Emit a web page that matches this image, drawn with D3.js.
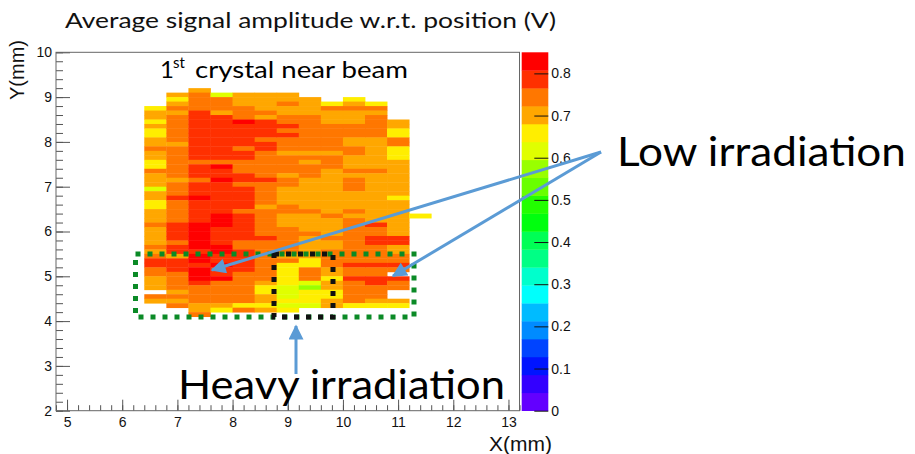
<!DOCTYPE html>
<html>
<head>
<meta charset="utf-8">
<script src="https://cdn.jsdelivr.net/npm/d3@7"></script>
<style>
  html, body { margin: 0; padding: 0; background: #ffffff; }
  svg { display: block; }
</style>
</head>
<body>
<svg id="chart" width="915" height="454"></svg>
<script>
// ---- binning of the 2D map (mm) ----
const xBinLow = [6.4, 6.8, 7.2, 7.6, 8.0, 8.4, 8.8, 9.2, 9.6, 10.0, 10.4, 10.8, 11.2];
const yBinLow = [9.1, 9.0, 8.9, 8.8, 8.7, 8.6, 8.5, 8.4, 8.3, 8.2, 8.1, 8.0, 7.9, 7.8, 7.7, 7.6, 7.5,
                 7.4, 7.3, 7.2, 7.1, 7.0, 6.9, 6.8, 6.7, 6.6, 6.5, 6.4, 6.3, 6.2, 6.1, 6.0, 5.9, 5.8,
                 5.7, 5.6, 5.5, 5.4, 5.3, 5.2, 5.1, 5.0, 4.9, 4.8, 4.7, 4.6, 4.5, 4.4, 4.3, 4.2, 4.1];
const binWidth = 0.4;
const binHeight = 0.1;

// ---- average amplitude (V) per x column, listed from the top row (9.1) down to 4.1 ----
const amp_x6_4 = [null,null,null,null,0.66,0.70,0.70,0.66,0.70,0.66,0.66,0.70,0.70,0.74,0.70,0.70,0.66,
  0.66,0.74,0.70,0.70,0.70,0.62,0.70,0.70,0.66,0.66,0.70,0.70,0.70,0.74,0.70,0.70,0.70,0.70,0.74,0.70,
  0.74,0.79,0.79,0.74,0.74,0.70,0.70,0.70,null,0.74,0.70,null,null,null];
const amp_x6_8 = [null,0.70,0.66,0.70,0.74,0.70,0.74,0.74,0.74,0.74,0.74,0.74,0.70,0.74,0.74,0.74,0.74,
  0.74,0.74,0.74,0.70,0.74,0.74,0.74,0.79,0.74,0.74,0.74,0.74,0.74,0.79,0.79,0.79,0.79,0.74,0.79,0.79,
  0.70,0.79,0.79,0.79,0.74,0.74,0.74,0.74,0.70,0.74,0.70,0.74,null,null];
const amp_x7_2 = [0.70,0.74,0.74,0.74,0.74,0.79,0.79,0.79,0.79,0.79,0.79,0.79,0.79,0.79,0.79,0.79,0.74,
  0.79,0.79,0.79,0.74,0.79,0.79,0.79,0.83,0.79,0.79,0.79,0.79,0.79,0.83,0.83,0.83,0.83,0.83,0.83,0.79,
  0.83,0.83,0.79,0.83,0.83,0.83,0.79,0.74,0.74,0.74,0.74,0.70,0.70,0.74];
const amp_x7_6 = [null,0.62,0.74,0.74,0.74,0.70,0.79,0.79,0.79,0.79,0.79,0.79,0.79,0.79,0.79,0.79,0.74,
  0.83,0.79,0.79,0.83,0.79,0.79,0.79,0.79,0.79,0.79,0.79,0.83,0.83,0.83,0.79,0.79,0.79,0.79,0.83,0.83,
  0.79,0.79,0.83,0.79,0.79,0.83,0.74,0.74,0.74,0.74,0.74,0.70,0.66,null];
const amp_x8_0 = [null,0.70,0.70,0.70,0.74,0.74,0.74,0.83,0.79,0.79,0.79,0.79,0.79,0.74,0.79,0.79,0.74,
  0.74,0.74,0.79,0.79,0.74,0.79,0.79,0.79,0.79,0.79,0.74,0.79,0.79,0.79,0.79,0.79,0.79,0.74,0.74,0.79,
  0.79,0.79,0.79,0.79,0.74,0.74,0.74,0.74,0.74,0.74,0.74,0.66,0.74,null];
const amp_x8_4 = [null,0.70,0.70,0.70,0.70,0.74,0.70,0.79,0.79,0.79,0.79,0.74,0.79,0.79,0.74,0.74,0.74,
  0.74,0.74,0.74,0.79,0.74,0.74,0.74,0.74,0.74,0.70,0.74,0.74,0.74,0.74,0.74,0.74,0.79,0.74,0.74,0.74,
  0.74,0.74,0.74,0.74,0.74,0.74,0.70,0.66,0.66,0.70,0.70,0.66,0.70,null];
const amp_x8_8 = [null,0.70,0.70,0.74,0.70,0.70,0.74,0.74,0.79,0.74,0.79,0.74,0.74,0.74,0.70,0.74,0.74,
  0.74,0.74,0.70,0.74,0.74,0.70,0.70,0.70,0.70,0.74,0.74,0.70,0.70,0.70,0.74,0.74,0.74,0.74,0.74,0.74,
  0.70,0.74,0.66,0.66,0.66,0.66,0.66,0.62,0.62,0.62,0.66,0.62,0.66,null];
const amp_x9_2 = [null,null,0.70,0.70,0.70,0.70,0.74,0.74,0.74,0.74,0.74,0.74,0.74,0.74,0.70,0.74,0.70,
  0.74,0.74,0.74,0.70,0.70,0.70,0.70,0.70,0.70,0.70,0.74,0.70,0.70,0.70,0.70,0.74,0.70,0.70,0.70,0.70,
  0.70,0.66,0.66,0.74,0.74,0.74,0.62,0.57,0.66,0.66,0.66,0.62,null,null];
const amp_x9_6 = [null,null,null,0.66,0.74,0.70,0.70,0.70,0.74,0.74,0.74,0.74,0.74,0.74,0.70,0.74,0.74,
  0.74,0.70,0.70,0.70,0.70,0.70,0.70,0.70,0.70,0.70,0.70,0.74,0.70,0.70,0.70,0.70,0.74,0.70,0.70,0.74,
  0.74,0.74,0.74,0.70,0.70,0.66,0.70,0.70,0.66,0.66,0.70,0.70,null,null];
const amp_x10_0 = [null,null,0.66,0.70,0.74,0.70,0.70,0.70,0.74,0.74,0.74,0.70,0.70,0.74,0.74,0.70,0.70,
  0.70,0.74,0.70,0.74,0.74,0.74,0.70,0.70,0.70,0.70,0.74,0.70,0.74,0.74,0.74,0.74,0.74,0.74,0.74,0.74,
  0.74,0.74,0.79,0.74,0.74,0.79,0.74,0.74,0.74,0.74,0.74,0.66,null,null];
const amp_x10_4 = [null,null,null,0.66,0.74,0.70,0.74,0.74,0.74,0.74,0.74,0.70,0.70,0.70,0.70,0.70,0.70,
  0.70,0.74,0.70,0.70,0.70,0.70,0.70,0.70,0.70,0.70,0.70,0.70,0.70,0.79,0.74,0.74,0.79,0.79,0.74,0.74,
  0.74,0.74,0.79,0.74,0.74,0.79,0.79,0.74,0.74,0.74,0.70,0.66,null,null];
const amp_x10_8 = [null,null,null,null,null,null,null,0.70,0.70,0.66,0.66,0.74,0.74,0.66,0.66,0.66,0.70,
  0.70,0.70,0.70,0.70,0.70,0.70,0.70,0.66,0.70,0.70,0.70,0.70,0.70,0.70,0.70,0.70,0.79,0.79,0.70,0.70,
  0.74,0.74,0.79,0.74,null,0.79,0.74,0.74,null,null,0.70,0.66,null,null];
const amp_x11_2 = [null,null,null,null,null,null,null,null,null,null,null,null,null,null,null,null,null,
  null,null,null,null,null,null,null,null,null,null,null,0.66,null,null,null,null,null,null,null,null,
  null,null,null,null,null,null,null,null,null,null,null,null,null,null];

const amplitudeColumns = [amp_x6_4, amp_x6_8, amp_x7_2, amp_x7_6, amp_x8_0, amp_x8_4, amp_x8_8,
  amp_x9_2, amp_x9_6, amp_x10_0, amp_x10_4, amp_x10_8, amp_x11_2];

// ---- axes ----
const xTicks = [5, 6, 7, 8, 9, 10, 11, 12, 13];
const yTicks = [2, 3, 4, 5, 6, 7, 8, 9, 10];
const zTicks = [0, 0.1, 0.2, 0.3, 0.4, 0.5, 0.6, 0.7, 0.8];
const zMax = 0.85;
const nContours = 20;

// ---- layout ----
const frame = { left: 56, right: 519.5, top: 52.3, bottom: 410.7 };
const paletteBox = { left: 521.7, right: 548.3 };
const axisFont = "'Liberation Sans', Arial, Helvetica, sans-serif";
const noteFont = "Lato, 'Open Sans', 'Noto Sans', sans-serif";

const svg = d3.select("#chart");

const x = d3.scaleLinear().domain([4.8, 13.2]).range([frame.left, frame.right]);
const y = d3.scaleLinear().domain([2, 10]).range([frame.bottom, frame.top]);
const zAxisScale = d3.scaleLinear().domain([0, zMax]).range([frame.bottom, frame.top]);

// rainbow palette: 50 hues (violet -> red), sampled for 20 contour levels
const levelColors = d3.range(nContours).map(j => {
  const idx = Math.floor((j + 0.99) * 50 / nContours);
  const hue = 280 - (idx + 1) * 5.6;
  return d3.hsl(hue, 1, 0.5).formatHex();
});
const color = d3.scaleQuantize().domain([0, zMax]).range(levelColors);

// ---- cells ----
const cells = [];
amplitudeColumns.forEach((col, ci) => {
  col.forEach((v, ri) => {
    if (v !== null) cells.push({ x0: xBinLow[ci], y0: yBinLow[ri], v });
  });
});

svg.append("g").attr("class", "cells")
  .selectAll("rect").data(cells).join("rect")
  .attr("x", d => x(d.x0))
  .attr("y", d => y(d.y0 + binHeight))
  .attr("width", d => x(d.x0 + binWidth) - x(d.x0) + 0.4)
  .attr("height", d => y(d.y0) - y(d.y0 + binHeight) + 0.4)
  .attr("fill", d => color(d.v));

// ---- frame and axes ----
const minorX = d3.range(24, 67).map(i => +(i * 0.2).toFixed(1));
const minorY = d3.range(10, 51).map(i => +(i * 0.2).toFixed(1));

const gxMinor = svg.append("g").attr("transform", `translate(0,${frame.bottom})`)
  .call(d3.axisBottom(x).tickValues(minorX).tickSizeInner(-5.5).tickSizeOuter(0).tickFormat(""));
const gx = svg.append("g").attr("transform", `translate(0,${frame.bottom})`)
  .call(d3.axisBottom(x).tickValues(xTicks).tickSizeInner(-11).tickSizeOuter(0).tickPadding(6)
    .tickFormat(d3.format("d")));
const gyMinor = svg.append("g").attr("transform", `translate(${frame.left},0)`)
  .call(d3.axisLeft(y).tickValues(minorY).tickSizeInner(-7).tickSizeOuter(0).tickFormat(""));
const gy = svg.append("g").attr("transform", `translate(${frame.left},0)`)
  .call(d3.axisLeft(y).tickValues(yTicks).tickSizeInner(-14).tickSizeOuter(0).tickPadding(4)
    .tickFormat(d3.format("d")));

[gxMinor, gx, gyMinor, gy].forEach(g => {
  g.select(".domain").remove();
  g.selectAll(".tick line").attr("stroke", "#555").attr("stroke-width", 1);
  g.selectAll(".tick text").attr("font-family", axisFont).attr("font-size", 14).attr("fill", "#111");
});

svg.append("rect")
  .attr("x", frame.left).attr("y", frame.top)
  .attr("width", frame.right - frame.left).attr("height", frame.bottom - frame.top)
  .attr("fill", "none").attr("stroke", "#666").attr("stroke-width", 1);

// ---- colour palette ----
const bandStep = zMax / nContours;
svg.append("g").attr("class", "palette")
  .selectAll("rect").data(levelColors).join("rect")
  .attr("x", paletteBox.left)
  .attr("width", paletteBox.right - paletteBox.left)
  .attr("y", (c, j) => zAxisScale((j + 1) * bandStep))
  .attr("height", (c, j) => zAxisScale(j * bandStep) - zAxisScale((j + 1) * bandStep) + 0.3)
  .attr("fill", c => c);

const gz = svg.append("g").attr("transform", `translate(${paletteBox.right},0)`)
  .call(d3.axisRight(zAxisScale).tickValues(zTicks).tickSizeInner(-14).tickSizeOuter(0).tickPadding(3)
    .tickFormat(d => d === 0 ? "0" : d3.format(".1f")(d)));
gz.select(".domain").remove();
gz.selectAll(".tick line").attr("stroke", "#111").attr("stroke-width", 1);
gz.selectAll(".tick text").attr("font-family", axisFont).attr("font-size", 14).attr("fill", "#111");

// ---- axis titles ----
svg.append("text")
  .attr("x", 552).attr("y", 451).attr("text-anchor", "end")
  .attr("font-family", axisFont).attr("font-size", 21).attr("fill", "#111")
  .text("X(mm)");
svg.append("text")
  .attr("transform", "translate(24,40) rotate(-90)").attr("text-anchor", "end")
  .attr("font-family", axisFont).attr("font-size", 20).attr("fill", "#111")
  .text("Y(mm)");

// ---- title and notes ----
svg.append("text")
  .attr("x", 65).attr("y", 28)
  .attr("font-family", noteFont).attr("font-size", 22).attr("fill", "#111")
  .attr("textLength", 491).attr("lengthAdjust", "spacingAndGlyphs")
  .text("Average signal amplitude w.r.t. position (V)");

const crystalNote = svg.append("g").attr("font-family", noteFont).attr("fill", "#000");
crystalNote.append("text").attr("x", 160).attr("y", 78).attr("font-size", 24).text("1");
crystalNote.append("text").attr("x", 173).attr("y", 68).attr("font-size", 15).text("st");
crystalNote.append("text").attr("x", 195).attr("y", 78).attr("font-size", 24)
  .attr("textLength", 213).attr("lengthAdjust", "spacingAndGlyphs")
  .text("crystal near beam");

// irradiation regions
const greenBox = { x0: 135.5, x1: 414, y0: 254, y1: 317 };
const blackBox = { x0: 274, x1: 333, y0: 254, y1: 317 };
svg.append("rect")
  .attr("x", greenBox.x0).attr("y", greenBox.y0)
  .attr("width", greenBox.x1 - greenBox.x0).attr("height", greenBox.y1 - greenBox.y0)
  .attr("fill", "none").attr("stroke", "#0b8a26").attr("stroke-width", 5)
  .attr("stroke-dasharray", "5 7");
svg.append("rect")
  .attr("x", blackBox.x0).attr("y", blackBox.y0)
  .attr("width", blackBox.x1 - blackBox.x0).attr("height", blackBox.y1 - blackBox.y0)
  .attr("fill", "none").attr("stroke", "#111").attr("stroke-width", 5)
  .attr("stroke-dasharray", "5 7");

// arrows
const arrowBlue = "#5b9bd5";
svg.append("defs").append("marker")
  .attr("id", "head").attr("viewBox", "0 0 10 10")
  .attr("refX", 9).attr("refY", 5)
  .attr("markerWidth", 17).attr("markerHeight", 15)
  .attr("markerUnits", "userSpaceOnUse").attr("orient", "auto")
  .append("path").attr("d", "M0,0 L10,5 L0,10 Z").attr("fill", arrowBlue);

const arrows = [
  { from: [601, 152], to: [212, 270] },
  { from: [601, 152], to: [393, 276] },
  { from: [296, 374], to: [296, 326] }
];
svg.append("g").selectAll("line").data(arrows).join("line")
  .attr("x1", d => d.from[0]).attr("y1", d => d.from[1])
  .attr("x2", d => d.to[0]).attr("y2", d => d.to[1])
  .attr("stroke", arrowBlue).attr("stroke-width", 3)
  .attr("marker-end", "url(#head)");

svg.append("text")
  .attr("x", 617).attr("y", 166)
  .attr("font-family", noteFont).attr("font-size", 40).attr("fill", "#000")
  .attr("textLength", 289).attr("lengthAdjust", "spacingAndGlyphs")
  .text("Low irradiation");
svg.append("text")
  .attr("x", 178).attr("y", 399)
  .attr("font-family", noteFont).attr("font-size", 40).attr("fill", "#000")
  .attr("textLength", 327).attr("lengthAdjust", "spacingAndGlyphs")
  .text("Heavy irradiation");
</script>
</body>
</html>
